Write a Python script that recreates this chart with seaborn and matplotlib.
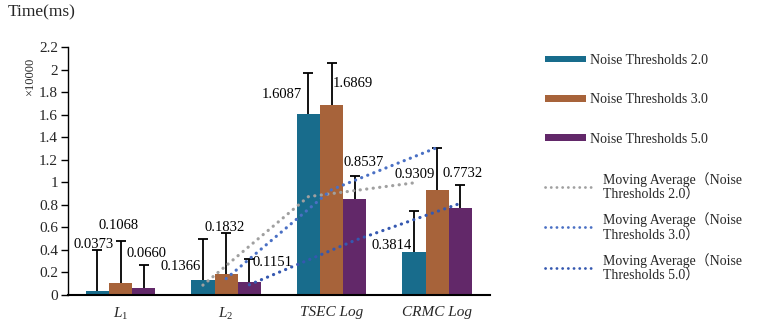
import numpy as np
import pandas as pd
import matplotlib
matplotlib.use("Agg")
import matplotlib.pyplot as plt
from matplotlib.patches import Patch, Rectangle
from matplotlib.lines import Line2D
import seaborn as sns

# ---- data -------------------------------------------------------------
categories = ["$L_1$", "$L_2$", "TSEC Log", "CRMC Log"]
series = ["Noise Thresholds 2.0", "Noise Thresholds 3.0", "Noise Thresholds 5.0"]
values_20 = [0.0373, 0.1366, 1.6087, 0.3814]
values_30 = [0.1068, 0.1832, 1.6869, 0.9309]
values_50 = [0.0660, 0.1151, 0.8537, 0.7732]
errors_20 = [0.36, 0.36, 0.36, 0.36]
errors_30 = [0.37, 0.37, 0.37, 0.37]
errors_50 = [0.20, 0.20, 0.20, 0.20]
ma_labels = ["Moving Average\uff08Noise\nThresholds 2.0\uff09",
             "Moving Average\uff08Noise\nThresholds 3.0\uff09",
             "Moving Average\uff08Noise\nThresholds 5.0\uff09"]
y_ticks = [0, 0.2, 0.4, 0.6, 0.8, 1, 1.2, 1.4, 1.6, 1.8, 2, 2.2]

# ---- styling ----------------------------------------------------------
bar_colors = ["#186C8C", "#A7633A", "#622869"]
ma_colors = ["#A0A0A0", "#4A70C4", "#3558B0"]
dot_style = (0, (0.05, 2.0))
# value-label offsets (pixels from bar centre / bar top)
label_offsets = [
    [(-4, 46), (-2, 57), (3, 34)],
    [(-22, 13), (-1, 47), (23, 19)],
    [(-27, 19), (21, 21), (9, 36)],
    [(-22, 6), (-23, 16), (2, 34)],
]

sns.set_theme(style="white")
serif = ["Liberation Serif", "Noto Sans CJK SC", "DejaVu Serif"]
plt.rcParams["font.family"] = serif
plt.rcParams["mathtext.fontset"] = "custom"
plt.rcParams["mathtext.it"] = "Liberation Serif:italic"
plt.rcParams["mathtext.rm"] = "Liberation Serif"

df = pd.DataFrame({
    "category": np.repeat(categories, 3),
    "series": series * len(categories),
    "value": np.ravel(np.column_stack([values_20, values_30, values_50])),
})

fig = plt.figure(figsize=(7.62, 3.27), dpi=100)
ax = fig.add_axes([0.089, 0.098, 0.554, 0.758])

sns.barplot(data=df, x="category", y="value", hue="series", order=categories,
            hue_order=series, palette=bar_colors, errorbar=None, width=0.66,
            saturation=1, ax=ax, legend=False, edgecolor="none", linewidth=0)

all_vals = [values_20, values_30, values_50]
all_errs = [errors_20, errors_30, errors_50]
px2pt = 72.0 / fig.dpi

# bar centres, read back from the drawn rectangles (sorted left to right)
bars = sorted([p for p in ax.patches if isinstance(p, Rectangle)],
              key=lambda p: p.get_x())
bar_x = [p.get_x() + p.get_width() / 2 for p in bars]
centers = [[bar_x[c * 3 + s] for c in range(len(categories))] for s in range(3)]

for s_idx in range(3):
    xs = np.array(centers[s_idx])
    vals = np.array(all_vals[s_idx])
    tops = vals + np.array(all_errs[s_idx])
    # upper whisker only, capped at its top end
    ax.vlines(xs, vals, tops, color="black", linewidth=1.3, zorder=4)
    ax.plot(xs, tops, linestyle="none", marker="_", markersize=7,
            markeredgewidth=1.3, color="black", zorder=4)
    for c_idx, (x, v) in enumerate(zip(xs, vals)):
        dx, dy = label_offsets[c_idx][s_idx]
        ax.annotate(f"{v:.4f}", (x, v), xytext=(dx * px2pt, dy * px2pt),
                    textcoords="offset points", ha="center", va="center",
                    fontsize=10.5, color="black", zorder=6)

# two-period moving averages
for s_idx in range(3):
    vals = np.array(all_vals[s_idx])
    ma = (vals[1:] + vals[:-1]) / 2
    ax.plot(centers[s_idx][1:], ma, linestyle=dot_style, linewidth=2.3,
            color=ma_colors[s_idx], dash_capstyle="round", zorder=5)

ax.set_ylim(0, 2.2)
ax.set_xlim(-0.5, 3.5)
ax.set_yticks(y_ticks)
ax.set_yticklabels([f"{t:g}" for t in y_ticks], fontsize=11)
ax.set_xlabel("")
ax.set_ylabel("")
for lbl in ax.get_xticklabels():
    lbl.set_fontstyle("italic")
    lbl.set_fontsize(11)
ax.tick_params(axis="y", direction="out", length=5, width=1, color="black",
               left=True, pad=2)
ax.tick_params(axis="x", length=0, pad=8)
for side in ["top", "right"]:
    ax.spines[side].set_visible(False)
ax.spines["left"].set_color("black")
ax.spines["left"].set_linewidth(1)
ax.spines["bottom"].set_color("black")
ax.spines["bottom"].set_linewidth(1.5)

fig.text(0.010, 0.962, "Time(ms)", fontsize=12.5, ha="left", va="center")
fig.text(0.040, 0.765, "\u00d710000", fontsize=9, rotation=90,
         ha="center", va="center")

bar_handles = [Patch(facecolor=c, edgecolor="none") for c in bar_colors]
leg1 = fig.legend(bar_handles, series, loc="upper left",
                  bbox_to_anchor=(0.715, 0.835), frameon=False, fontsize=10,
                  handlelength=3.0, handleheight=0.38, handletextpad=0.25,
                  labelspacing=1.9, borderpad=0, borderaxespad=0)
line_handles = [Line2D([0], [0], color=c, linestyle=dot_style,
                       linewidth=2.0, dash_capstyle="round") for c in ma_colors]
leg2 = fig.legend(line_handles, ma_labels, loc="upper left",
                  bbox_to_anchor=(0.715, 0.475), frameon=False, fontsize=10,
                  handlelength=3.4, handletextpad=0.8, labelspacing=0.75,
                  borderpad=0, borderaxespad=0)

fig.savefig("out.png", dpi=100)
